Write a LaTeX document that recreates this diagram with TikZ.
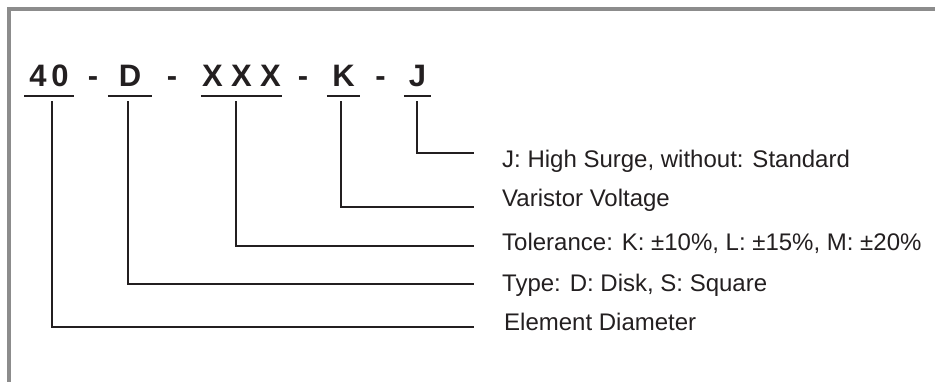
\documentclass[tikz,border=0pt]{standalone}
\usepackage{fontspec}
\setmainfont{Liberation Sans}
\definecolor{framegray}{HTML}{8C8C8C}
\definecolor{ink}{HTML}{231F20}
\tikzset{
  code/.style={font=\bfseries\fontsize{31}{36}\selectfont, text=ink, inner sep=0pt, text depth=9pt, anchor=base},
  dashchar/.style={font=\bfseries\fontsize{31}{36}\selectfont, text=ink, inner sep=0pt, anchor=base},
  lab/.style={font=\fontsize{24}{28}\selectfont, text=ink, inner sep=0pt, anchor=base west},
  uline/.style={draw=ink, line width=2pt},
  conn/.style={draw=ink, line width=2pt, line cap=rect},
  frame/.style={draw=framegray, line width=3.5pt}
}
\begin{document}
\begin{tikzpicture}[x=1pt,y=-1pt]
\useasboundingbox (0,0) rectangle (935,382);
% frame
\coordinate (fbl) at (8.8,390);
\coordinate (ftl) at (8.8,8.8);
\coordinate (ftr) at (940,8.8);
\draw[frame] (fbl) -- (ftl) -- (ftr);
% code parts
\node[code, minimum width=49pt] (c40) at (49,86.5) {4\hspace{4.8pt}0};
\node[dashchar] (d1) at (93,86.5) {-};
\node[code, minimum width=44pt] (cD) at (130,86.5) {D};
\node[dashchar] (d2) at (172,86.5) {-};
\node[code, minimum width=81pt] (cX) at (241.5,86.5) {X\hspace{8.3pt}X\hspace{8.3pt}X};
\node[dashchar] (d3) at (303,86.5) {-};
\node[code, minimum width=33pt] (cK) at (343.5,86.5) {K};
\node[dashchar] (d4) at (380.5,86.5) {-};
\node[code, minimum width=27pt] (cJ) at (417.5,86.5) {J};
% underlines
\foreach \n in {c40,cD,cX,cK,cJ}
  \draw[uline] (\n.south west) -- (\n.south east);
% labels
\node[lab] (lJ) at (502,168) {J: High Surge, without: Standard};
\node[lab] (lK) at (502,207) {Varistor Voltage};
\node[lab] (lX) at (502,250.5) {Tolerance: K: \textpm10\%, L: \textpm15\%, M: \textpm20\%};
\node[lab] (lD) at (502,291.5) {Type: D: Disk, S: Square};
\node[lab] (l40) at (504,330.5) {Element Diameter};
% line ends
\coordinate (eJ) at (473,153);
\coordinate (eK) at (473,207);
\coordinate (eX) at (473,246);
\coordinate (eD) at (473,284);
\coordinate (e40) at (473,327);
% connectors
\draw[conn] ([xshift=2.5pt,yshift=-6pt]c40.south) |- (e40);
\draw[conn] ([xshift=-2pt,yshift=-6pt]cD.south) |- (eD);
\draw[conn] ([xshift=-5.5pt,yshift=-6pt]cX.south) |- (eX);
\draw[conn] ([xshift=-2.5pt,yshift=-6pt]cK.south) |- (eK);
\draw[conn] ([xshift=-0.5pt,yshift=-6pt]cJ.south) |- (eJ);
\end{tikzpicture}
\end{document}
